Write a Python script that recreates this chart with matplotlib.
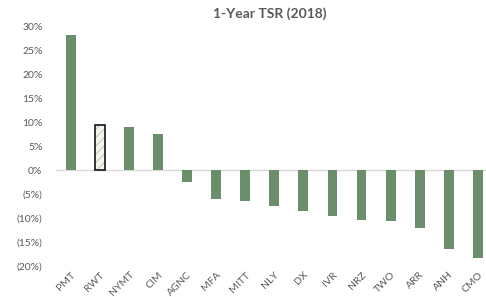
import matplotlib
matplotlib.use("Agg")
import matplotlib.pyplot as plt
from matplotlib.ticker import FuncFormatter

# 1-year total shareholder return, 2018 (%)
tickers = ["PMT", "RWT", "NYMT", "CIM", "AGNC", "MFA", "MITT", "NLY",
           "DX", "IVR", "NRZ", "TWO", "ARR", "ANH", "CMO"]
tsr = [28.1, 9.3, 8.9, 7.6, -2.5, -6.1, -6.5, -7.4,
       -8.5, -9.6, -10.5, -10.6, -12.0, -16.5, -18.3]
highlight = "RWT"

green = "#6b8e6b"
grey_text = "#595959"

plt.rcParams["font.family"] = ["Lato", "DejaVu Sans"]
plt.rcParams["hatch.linewidth"] = 0.8

fig = plt.figure(figsize=(4.86, 2.97), dpi=100)
ax = fig.add_axes([0.116, 0.1044, 0.897, 0.808])

x = list(range(len(tickers)))
for i, (t, v) in enumerate(zip(tickers, tsr)):
    if t == highlight:
        # light hatch first, then a black outline on top
        ax.bar(i, v, width=0.34, facecolor="#f4f4ee", edgecolor="#c9c9b8",
               linewidth=0, hatch="////", zorder=3)
        ax.bar(i, v, width=0.34, fill=False, edgecolor="black",
               linewidth=1.1, zorder=4)
    else:
        ax.bar(i, v, width=0.34, color=green, zorder=3)

ax.axhline(0, color="#d9d9d9", linewidth=1, zorder=2)
ax.set_xlim(-0.5, len(tickers) - 0.5)
ax.set_ylim(-20, 30)
ax.set_yticks(range(-20, 31, 5))


def pct(v, pos):
    v = int(round(v))
    return f"({abs(v)}%)" if v < 0 else f"{v}%"


ax.yaxis.set_major_formatter(FuncFormatter(pct))
ax.set_xticks(x)
ax.set_xticklabels(tickers, rotation=45, ha="right", rotation_mode="anchor")
ax.tick_params(axis="both", length=0, labelsize=7.5, colors=grey_text)
ax.tick_params(axis="x", pad=3)
ax.tick_params(axis="y", pad=10)
for s in ax.spines.values():
    s.set_visible(False)

fig.text(0.555, 0.955, "1-Year TSR (2018)", ha="center", va="center",
         fontsize=10, fontweight="bold", color=grey_text)

fig.savefig("out.png", dpi=100, facecolor="white")
